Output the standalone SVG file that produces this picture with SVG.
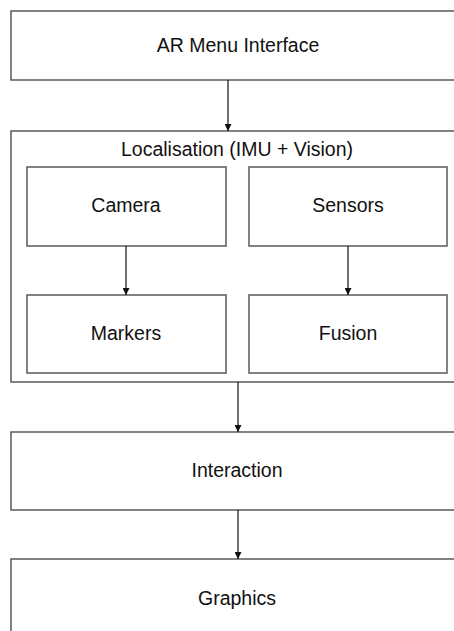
<svg xmlns="http://www.w3.org/2000/svg" width="454" height="631" viewBox="0 0 454 631">
  <style>
    .box { fill: #ffffff; stroke: #595959; stroke-width: 1.5; }
    .label { font-family: "Liberation Sans", Arial, sans-serif; font-size: 19.5px; fill: #111111; text-anchor: middle; }
    .conn { stroke: #222222; stroke-width: 1.3; fill: none; marker-end: url(#arrow); }
  </style>
  <defs>
    <marker id="arrow" viewBox="0 0 10 10" refX="10" refY="5" markerWidth="7" markerHeight="7" markerUnits="userSpaceOnUse" orient="auto">
      <path d="M0,0 L10,5 L0,10 z" fill="#111111"/>
    </marker>
  </defs>
  <rect width="454" height="631" fill="#ffffff"/>

  <g id="ar-menu">
    <rect class="box" x="11" y="11" width="450" height="69"/>
    <text class="label" x="238" y="52">AR Menu Interface</text>
  </g>

  <g id="localisation">
    <rect class="box" x="11" y="131" width="450" height="251"/>
    <text class="label" x="237" y="156">Localisation (IMU + Vision)</text>
  </g>

  <g id="camera">
    <rect class="box" x="27" y="167" width="199" height="79"/>
    <text class="label" x="126" y="212">Camera</text>
  </g>

  <g id="sensors">
    <rect class="box" x="249" y="167" width="198" height="79"/>
    <text class="label" x="348" y="212">Sensors</text>
  </g>

  <g id="markers">
    <rect class="box" x="27" y="295" width="199" height="78"/>
    <text class="label" x="126" y="340">Markers</text>
  </g>

  <g id="fusion">
    <rect class="box" x="249" y="295" width="198" height="78"/>
    <text class="label" x="348" y="340">Fusion</text>
  </g>

  <g id="interaction">
    <rect class="box" x="11" y="432" width="450" height="78"/>
    <text class="label" x="237" y="477">Interaction</text>
  </g>

  <g id="graphics">
    <rect class="box" x="11" y="559" width="450" height="90"/>
    <text class="label" x="237" y="605">Graphics</text>
  </g>

  <g id="connectors">
    <line class="conn" x1="228" y1="80" x2="228" y2="131"/>
    <line class="conn" x1="126" y1="246" x2="126" y2="295"/>
    <line class="conn" x1="348" y1="246" x2="348" y2="295"/>
    <line class="conn" x1="238" y1="382" x2="238" y2="432"/>
    <line class="conn" x1="238" y1="510" x2="238" y2="559"/>
  </g>
</svg>
